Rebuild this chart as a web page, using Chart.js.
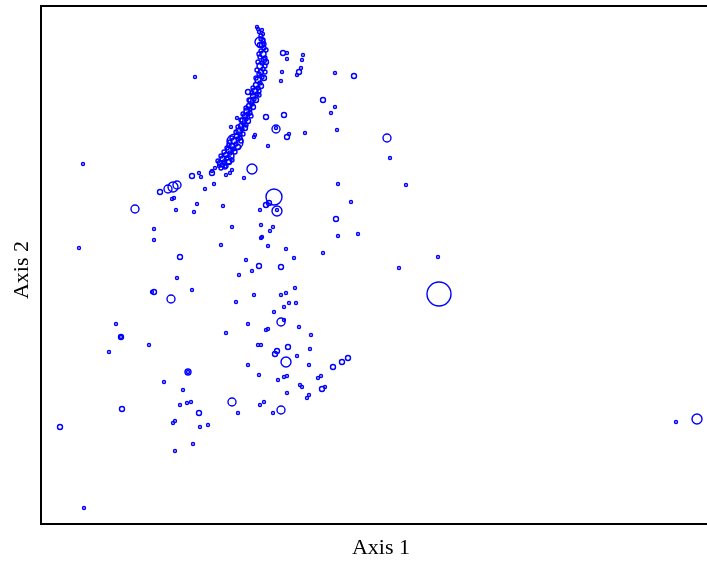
<!DOCTYPE html>
<html>
<head>
<meta charset="utf-8">
<script src="https://cdn.jsdelivr.net/npm/chart.js@4/dist/chart.umd.min.js"></script>
<style>
  html, body { margin: 0; padding: 0; background: #fff; overflow: hidden; }
  #wrap { width: 725px; height: 561px; position: relative; }
</style>
</head>
<body>
<div id="wrap"><canvas id="chart"></canvas></div>
<script>
// ordination scores: [axis 1, axis 2, symbol size]
// axis 2 grows downward in these units (scale is reversed)
const curvePoints = [
  [258,29,1.5],[261,36,2],[263,40,2],[262,45,2.5],[264,48,2],[261,51,2],[263,54,3],[260,57,2],
  [264,60,2.5],[262,63,2],[260,66,3],[263,69,2],[261,72,2.5],[259,74,2],[262,77,2],[258,80,3],
  [260,83,2],[256,85,2.5],[258,88,2],[255,91,3],[257,94,2],[253,96,2.5],[254,99,2],[251,101,3],
  [252,104,2],[249,106,2.5],[250,109,2],[247,111,3],[248,114,2],[245,116,2.5],[246,119,2],[243,121,3],
  [244,124,2],[241,126,2.5],[242,129,2],[239,131,3],[240,134,2],[237,136,2.5],[238,139,2],[234,141,3],
  [236,144,2],[232,146,2.5],[233,149,2],[229,150,3],[230,153,2],[226,155,2.5],[227,158,2],[223,159,3],
  [224,162,2],[220,163,2.5],[222,165,2],[219,166,1.5],[265,58,2],[265,66,2],[259,95,2],[250,113,2],
  [246,125,2],[240,138,2],[229,145,2],[231,156,3],[226,166,2],
  [260,45,2.5],[266,50,2],[259,54,2],[266,62,2.5],[258,62,2],[265,72,2],[257,70,2],[264,78,2.5],
  [256,78,2],[261,86,2.5],[253,88,2],[259,91,2],[252,93,2],[256,100,2.5],[249,100,2],[253,107,2.5],
  [246,108,2],[251,116,2],[243,114,2],[248,121,2.5],[241,120,2],[245,128,2.5],[238,127,2],[243,134,2],
  [236,132,2],[241,141,2],[232,138,2],[238,147,2.5],[230,142,2],[235,152,2],[227,148,2],[232,160,2],
  [224,152,2],[229,162,2.5],[221,156,2],[225,167,2],[218,161,2],[221,168,2],[262,30,1.5],[263,34,1.5],
  [261,39,2],[264,44,2]
];

const otherPoints = [
  [257,27,1.5],[259,32,1.5],[260,42,5],[195,77,1.5],[283,53,2.5],[287,53,1.5],[287,59,1.5],
  [303,55,1.5],[302,60,1.5],[301,68,1.5],[299,72,2.5],[297,75,1.5],[282,72,1.5],[281,81,1.5],
  [335,73,1.5],[354,76,2.5],[323,100,2.5],[335,107,1.5],[331,113,1.5],[266,117,2.5],[284,115,2.5],
  [248,92,2.5],[237,118,1.5],[231,127,1.5],[276,129,4],[276,128,1.5],[287,137,2.5],[289,134,1.5],
  [305,133,1.5],[337,130,1.5],[254,137,1.5],[255,135,1.5],[268,146,1.5],[387,138,4],[390,158,1.5],
  [83,164,1.5],[235,142,8],[228,160,4],[252,169,5],[192,176,2.5],[199,173,1.5],[201,177,1.5],
  [212,173,2.5],[212,171,1.5],[215,168,1.5],[226,175,1.5],[230,173,1.5],[232,170,1.5],[244,178,1.5],
  [214,184,1.5],[205,189,1.5],[160,192,2.5],[168,189,4],[173,187,5],[177,185,4],[172,199,1.5],
  [174,198,1.5],[338,184,1.5],[406,185,1.5],[274,197,8],[266,205,2.5],[269,203,2.5],[277,211,5],
  [277,210,1.5],[260,210,1.5],[351,202,1.5],[135,209,4],[176,210,1.5],[197,204,1.5],[194,212,1.5],
  [223,206,1.5],[336,219,2.5],[154,229,1.5],[154,240,1.5],[79,248,1.5],[338,236,1.5],[358,234,1.5],
  [232,227,1.5],[261,225,1.5],[273,227,1.5],[270,231,1.5],[262,237,1.5],[261,238,1.5],[221,245,1.5],
  [268,246,1.5],[286,249,1.5],[323,253,1.5],[438,257,1.5],[399,268,1.5],[180,257,2.5],[294,258,1.5],
  [246,260,1.5],[259,266,2.5],[281,267,2.5],[252,271,1.5],[239,275,1.5],[177,278,1.5],[439,294,12],
  [154,292,2.5],[152,292,1.5],[192,290,1.5],[171,299,4],[295,288,1.5],[254,295,1.5],[286,293,1.5],
  [281,295,1.5],[236,302,1.5],[289,303,1.5],[296,303,1.5],[284,307,1.5],[274,312,1.5],[281,322,4],
  [284,320,1.5],[248,324,1.5],[299,327,1.5],[116,324,1.5],[121,337,2.5],[121,337,1.5],[226,333,1.5],
  [266,330,1.5],[268,329,1.5],[311,335,1.5],[149,345,1.5],[258,345,1.5],[261,345,1.5],[288,347,2.5],
  [310,349,1.5],[109,352,1.5],[277,351,2.5],[275,354,2.5],[286,362,5],[297,356,1.5],[348,358,2.5],
  [342,362,2.5],[333,367,2.5],[309,365,1.5],[188,372,3],[188,372,1.5],[248,365,1.5],[259,375,1.5],
  [284,377,1.5],[287,376,1.5],[278,380,1.5],[318,378,1.5],[321,376,1.5],[164,382,1.5],[183,390,1.5],
  [300,385,1.5],[302,387,1.5],[322,389,2.5],[325,387,1.5],[287,393,1.5],[309,395,1.5],[307,398,1.5],
  [180,405,1.5],[187,403,1.5],[191,402,1.5],[232,402,4],[264,402,1.5],[260,405,1.5],[122,409,2.5],
  [281,410,4],[199,413,2.5],[238,413,1.5],[273,413,1.5],[173,423,1.5],[175,421,1.5],[200,427,1.5],
  [208,425,1.5],[193,444,1.5],[175,451,1.5],[60,427,2.5],[84,508,1.5],[676,422,1.5],[697,419,5]
];

const axis1Range = [41, 721];
const axis2Range = [6, 524];
const axisTitles = ['Axis 1', 'Axis 2'];

const toBubbles = rows => rows.map(p => ({ x: p[0], y: p[1], r: p[2] }));

const boxAndTitles = {
  id: 'boxAndTitles',
  afterDraw(chart) {
    const { ctx, chartArea: a } = chart;
    ctx.save();
    ctx.strokeStyle = '#000';
    ctx.lineWidth = 2;
    ctx.strokeRect(a.left, a.top, a.right - a.left, a.bottom - a.top);
    ctx.fillStyle = '#000';
    ctx.font = '22px "Liberation Serif", "Times New Roman", serif';
    ctx.textAlign = 'center';
    ctx.textBaseline = 'middle';
    ctx.fillText(axisTitles[0], (a.left + a.right) / 2, 548);
    ctx.translate(22, (a.top + a.bottom) / 2 + 5);
    ctx.rotate(-Math.PI / 2);
    ctx.fillText(axisTitles[1], 0, 0);
    ctx.restore();
  }
};

const style = {
  backgroundColor: 'rgba(0,0,0,0)',
  borderColor: '#0000ff',
  borderWidth: 1.4,
  hoverRadius: 0
};

new Chart(document.getElementById('chart').getContext('2d'), {
  type: 'bubble',
  data: {
    datasets: [
      Object.assign({ label: 'curve', data: toBubbles(curvePoints) }, style),
      Object.assign({ label: 'sites', data: toBubbles(otherPoints) }, style)
    ]
  },
  options: {
    responsive: true,
    maintainAspectRatio: false,
    animation: false,
    layout: { autoPadding: false, padding: { left: 41, top: 6, right: 4, bottom: 37 } },
    plugins: { legend: { display: false }, tooltip: { enabled: false } },
    scales: {
      x: { display: false, min: axis1Range[0], max: axis1Range[1] },
      y: { display: false, reverse: true, min: axis2Range[0], max: axis2Range[1] }
    }
  },
  plugins: [boxAndTitles]
});
</script>
</body>
</html>
